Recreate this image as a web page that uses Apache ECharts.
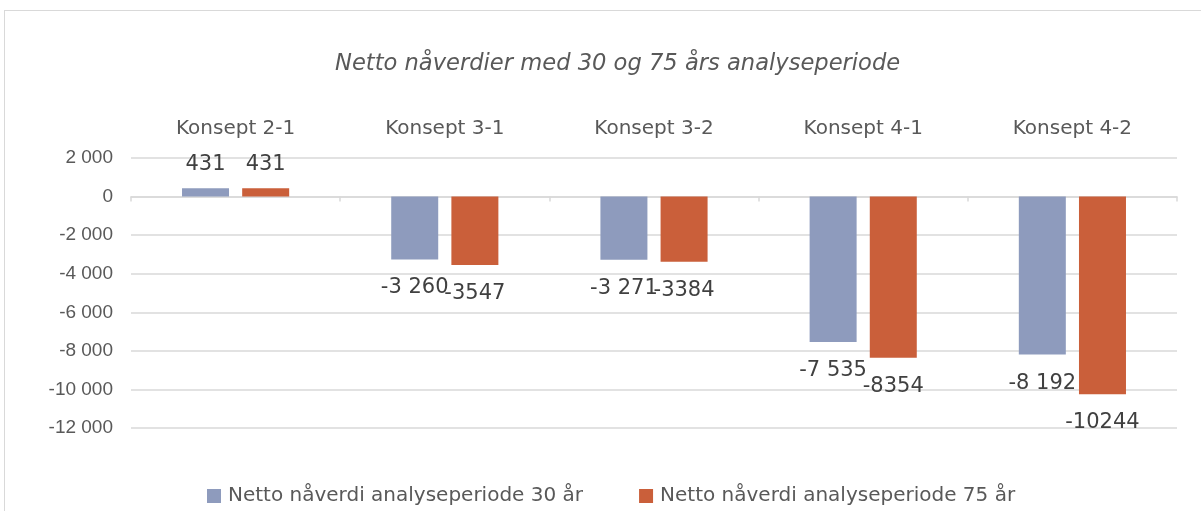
<!DOCTYPE html>
<html><head><meta charset="utf-8">
<script src="https://cdn.jsdelivr.net/npm/echarts@6/dist/echarts.min.js"></script>
<style>
html,body{margin:0;padding:0;background:#fff;}
#frame{position:absolute;left:4px;top:10px;width:1210px;height:520px;border:1px solid #d9d9d9;box-sizing:border-box;}
#c{position:absolute;left:0;top:0;width:1201px;height:511px;}
</style></head>
<body><div id="frame"></div><div id="c"></div>
<script>
const categories = ['Konsept 2-1','Konsept 3-1','Konsept 3-2','Konsept 4-1','Konsept 4-2'];
const series30 = [431, -3260, -3271, -7535, -8192];
const series75 = [431, -3547, -3384, -8354, -10244];
const seriesNames = ['Netto nåverdi analyseperiode 30 år','Netto nåverdi analyseperiode 75 år'];
const titleText = 'Netto nåverdier med 30 og 75 års analyseperiode';
const yMin = -12000, yMax = 2000, yStep = 2000;

const FONT = 'DejaVu Sans';
const FONT2 = 'Liberation Sans';
const fmtSpace = v => {
  const s = Math.abs(v).toString().replace(/\B(?=(\d{3})+(?!\d))/g, ' ');
  return (v < 0 ? '-' : '') + s;
};
function mk(vals){
  return vals.map(v => ({
    value: v,
    label: v >= 0 ? {position:'top',distance:13} : {position:'bottom',distance:18}
  }));
}
const gridTop = 158, gridBottom = 83, H = 511;
const plotH = H - gridTop - gridBottom;
const zeroFromBottom = plotH * (0 - yMin) / (yMax - yMin);

const chart = echarts.init(document.getElementById('c'));
chart.setOption({
  animation:false,
  title:{text:titleText,left:330,top:48,
    textStyle:{fontFamily:FONT,fontStyle:'italic',fontWeight:'normal',fontSize:22.6,color:'#595959'}},
  grid:{left:131,right:24,top:gridTop,bottom:gridBottom},
  legend:{top:481,left:202,itemWidth:14,itemHeight:14,itemGap:56,icon:'rect',
    textStyle:{fontFamily:FONT,fontSize:20,color:'#595959',padding:[0,0,0,2]}},
  xAxis:{type:'category',data:categories,position:'bottom',offset:-zeroFromBottom,
     axisLine:{onZero:false,lineStyle:{color:'#d9d9d9',width:1.5}},
     axisTick:{show:true,length:5,lineStyle:{color:'#d9d9d9',width:1.5}},
     axisLabel:{fontFamily:FONT,fontSize:20,color:'#595959',margin:-78}},
  yAxis:{type:'value',min:yMin,max:yMax,interval:yStep,
    axisLine:{show:false},axisTick:{show:false},
    splitLine:{lineStyle:{color:'#d9d9d9',width:1.5}},
    axisLabel:{fontFamily:FONT2,fontSize:19,color:'#595959',margin:18,formatter:fmtSpace}},
  series:[
    {name:seriesNames[0],type:'bar',data:mk(series30),
     itemStyle:{color:'#8E9BBD'},barWidth:47,barGap:'28%',
     label:{show:true,fontFamily:FONT,fontSize:21,color:'#404040',
       formatter:p=>fmtSpace(p.value)}},
    {name:seriesNames[1],type:'bar',data:mk(series75),
     itemStyle:{color:'#CA5F3A'},barWidth:47,
     label:{show:true,fontFamily:FONT,fontSize:21,color:'#404040',
       formatter:p=>String(p.value)}}
  ]
});
</script></body></html>
